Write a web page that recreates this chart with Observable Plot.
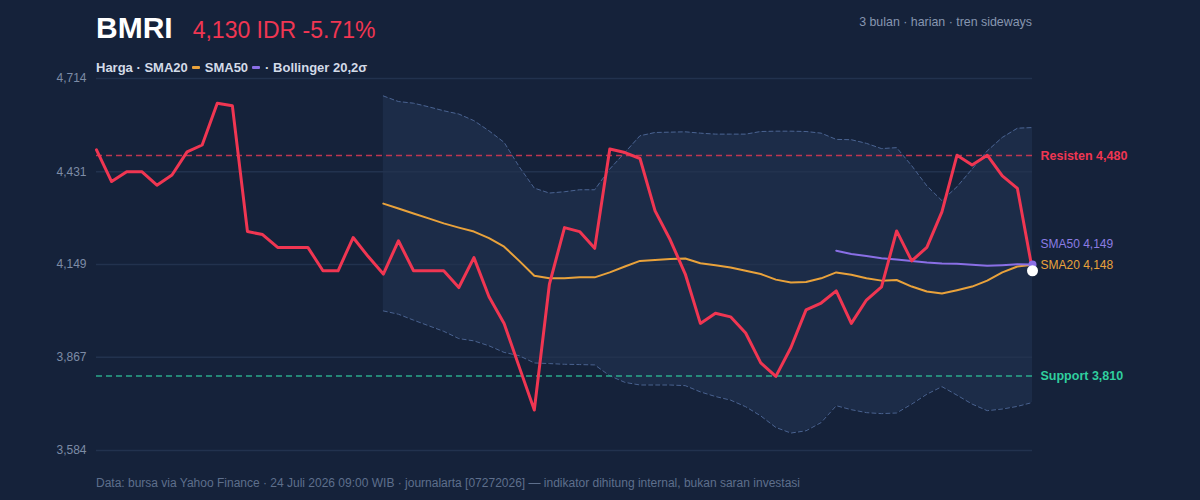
<!DOCTYPE html>
<html>
<head>
<meta charset="utf-8">
<script src="https://cdn.jsdelivr.net/npm/d3@7"></script>
<script src="https://cdn.jsdelivr.net/npm/@observablehq/plot@0.6"></script>
<style>
  html, body { margin: 0; padding: 0; background: #15223a; }
  #wrap { position: relative; width: 1200px; height: 500px; font-family: "Liberation Sans", Arial, Helvetica, sans-serif; overflow: hidden; }
  #chart svg { display: block; }
  .abs { position: absolute; white-space: nowrap; line-height: 1; }
  #title { left: 96px; top: 13px; display: flex; align-items: baseline; gap: 20px; }
  #sym { font-size: 30px; font-weight: bold; color: #ffffff; }
  #quote { font-size: 23px; color: #f03652; }
  #meta { right: 168px; top: 16px; font-size: 12.4px; color: #8796b0; }
  #legend { left: 96px; top: 61px; font-size: 13px; font-weight: bold; color: #d3dbe8; display: flex; align-items: center; }
  .sw { display: inline-block; width: 8px; height: 3px; border-radius: 1px; margin: 0 5px 0 4px; }
  #foot { left: 96px; top: 477px; font-size: 12px; color: #5e6f8c; }
</style>
</head>
<body>
<div id="wrap">
  <div id="chart"></div>
  <div id="title" class="abs"><span id="sym"></span><span id="quote"></span></div>
  <div id="meta" class="abs"></div>
  <div id="legend" class="abs"></div>
  <div id="foot" class="abs"></div>
</div>
<script>
// ---- data ----
const symbol = "BMRI";
const quoteText = "4,130 IDR -5.71%";
const metaText = "3 bulan · harian · tren sideways";
const footText = "Data: bursa via Yahoo Finance · 24 Juli 2026 09:00 WIB · journalarta [07272026] — indikator dihitung internal, bukan saran investasi";

// daily closes (63 sessions)
const price = [4497,4401,4431,4431,4390,4421,4491,4512,4639,4631,
               4249,4240,4201,4201,4201,4130,4130,4231,4173,4120,
               4221,4130,4130,4130,4079,4170,4051,3970,3838,3707,
               4089,4261,4249,4198,4500,4489,4471,4312,4224,4120,
               3970,4001,3990,3941,3850,3809,3897,4011,4032,4069,
               3970,4041,4081,4251,4160,4201,4309,4481,4451,4481,
               4418,4380,4130];
const session = price.map((_, i) => i);

// SMA20 and Bollinger 20,2σ (from session 19)
const sma20Start = 19;
const sma20 = [4334,4319,4304,4289,4274,4261,4249,4229,4203,4160,4115,4107,4107,4110,4110,4125,4143,4160,4163,4166,
               4167,4153,4147,4140,4130,4120,4103,4094,4096,4107,4125,4118,4107,4100,4102,4082,4067,4061,4071,4082,
               4100,4125,4143,4148];
const bbUpper = [4661,4644,4639,4628,4616,4606,4586,4555,4520,4446,4381,4366,4370,4376,4376,4439,4489,4540,4550,4551,
                 4552,4548,4545,4545,4545,4553,4554,4554,4553,4548,4529,4528,4517,4501,4504,4449,4388,4343,4385,4439,
                 4494,4535,4563,4565];
const bbLower = [4008,3998,3980,3963,3946,3924,3917,3902,3882,3872,3850,3848,3846,3845,3844,3811,3791,3783,3783,3783,
                 3781,3762,3748,3737,3717,3689,3654,3637,3644,3669,3720,3708,3699,3696,3698,3725,3755,3778,3752,3725,
                 3705,3710,3718,3730];

// SMA50 (from session 49)
const sma50Start = 49;
const sma50 = [4191,4181,4175,4168,4164,4160,4155,4152,4151,4148,4145,4147,4150,4149];

const resistance = 4480;
const support = 3810;
const yDomain = [3584, 4714];
const yTicks = [3584, 3867, 4149, 4431, 4714];
const yTickLabels = ["3,584", "3,867", "4,149", "4,431", "4,714"];

// ---- colours ----
const C = {
  price: "#f03652", sma20: "#e9a23b", sma50: "#8a6fe6", sma50Text: "#8b7ce3",
  band: "#1c2c48", bandLine: "#4a6391", grid: "#22324e", tick: "#7d8ca6",
  res: "#c0354f", resText: "#f03652", sup: "#2aa98a", supText: "#30cf9e"
};

// ---- tables ----
const priceData = price.map((v, i) => ({ i: session[i], v }));
const bandData = sma20.map((v, k) => ({ i: session[k + sma20Start], sma: v, up: bbUpper[k], lo: bbLower[k] }));
const sma50Data = sma50.map((v, k) => ({ i: session[k + sma50Start], v }));
const first = session[0], last = session[session.length - 1];
const lastPrice = priceData[priceData.length - 1];
const last20 = bandData[bandData.length - 1];
const last50 = sma50Data[sma50Data.length - 1];
const fmt = d3.format(",");

// ---- header / footer ----
document.getElementById("sym").textContent = symbol;
document.getElementById("quote").textContent = quoteText;
document.getElementById("meta").textContent = metaText;
document.getElementById("foot").textContent = footText;
const lg = document.getElementById("legend");
lg.innerHTML = `<span>Harga · SMA20</span><span class="sw" style="background:${C.sma20}"></span><span>SMA50</span><span class="sw" style="background:${C.sma50}"></span><span>· Bollinger 20,2σ</span>`;

// ---- chart ----
const chart = Plot.plot({
  width: 1200,
  height: 500,
  marginTop: 78,
  marginBottom: 50,
  marginLeft: 96,
  marginRight: 168,
  style: { background: "transparent", fontFamily: "'Liberation Sans', Arial, sans-serif" },
  x: { domain: [first, last], axis: null },
  y: { domain: yDomain, label: null },
  marks: [
    Plot.areaY(bandData, { x: "i", y1: "lo", y2: "up", fill: C.band }),
    Plot.ruleY(yTicks, { x1: first, x2: last, stroke: C.grid, strokeWidth: 1.5 }),
    Plot.axisY(yTicks, {
      tickSize: 0, tickPadding: 10, fontSize: 12, fill: C.tick, label: null,
      tickFormat: d => yTickLabels[yTicks.indexOf(d)]
    }),
    Plot.lineY(bandData, { x: "i", y: "up", stroke: C.bandLine, strokeWidth: 1, strokeDasharray: "4,3" }),
    Plot.lineY(bandData, { x: "i", y: "lo", stroke: C.bandLine, strokeWidth: 1, strokeDasharray: "4,3" }),
    Plot.ruleY([resistance], { x1: first, x2: last, stroke: C.res, strokeWidth: 1.5, strokeDasharray: "6,4" }),
    Plot.ruleY([support], { x1: first, x2: last, stroke: C.sup, strokeWidth: 1.5, strokeDasharray: "6,4" }),
    Plot.lineY(bandData, { x: "i", y: "sma", stroke: C.sma20, strokeWidth: 2 }),
    Plot.lineY(sma50Data, { x: "i", y: "v", stroke: C.sma50, strokeWidth: 2 }),
    Plot.lineY(priceData, { x: "i", y: "v", stroke: C.price, strokeWidth: 3, strokeLinejoin: "round" }),
    Plot.dot([last20], { x: "i", y: "sma", r: 3, fill: C.sma20 }),
    Plot.dot([last50], { x: "i", y: "v", r: 4, fill: C.sma50 }),
    Plot.dot([lastPrice], { x: "i", y: "v", r: 5.5, fill: "#ffffff" }),
    Plot.text([resistance], { x: last, y: d => d, text: d => `Resisten ${fmt(d)}`, textAnchor: "start", dx: 8, fill: C.resText, fontWeight: "bold", fontSize: 12.5 }),
    Plot.text([support], { x: last, y: d => d, text: d => `Support ${fmt(d)}`, textAnchor: "start", dx: 8, fill: C.supText, fontWeight: "bold", fontSize: 12.5 }),
    Plot.text([last50], { x: "i", y: "v", text: d => `SMA50 ${fmt(d.v)}`, textAnchor: "start", dx: 8, dy: -20, fill: C.sma50Text, fontSize: 12 }),
    Plot.text([last20], { x: "i", y: "sma", text: d => `SMA20 ${fmt(d.sma)}`, textAnchor: "start", dx: 8, fill: C.sma20, fontSize: 12 })
  ]
});
document.getElementById("chart").appendChild(chart);
</script>
</body>
</html>
